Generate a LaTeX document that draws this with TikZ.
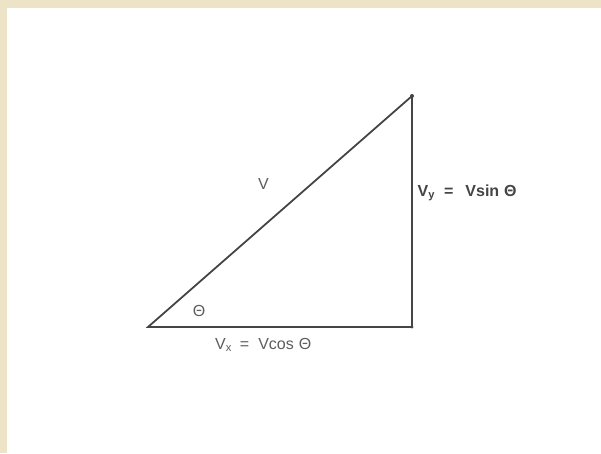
\documentclass[tikz,border=0pt]{standalone}
\usepackage{fontspec}
\setmainfont{Liberation Sans}
\definecolor{beige}{HTML}{EDE3C6}
\definecolor{linegray}{HTML}{454545}
\definecolor{textgray}{HTML}{5E5E5E}
\begin{document}
\begin{tikzpicture}[x=1pt,y=-1pt,
  side/.style={draw=linegray,line width=1.8pt},
  lbl/.style={inner sep=0pt,text=textgray,font=\fontsize{16}{19}\selectfont},
  blbl/.style={inner sep=0pt,text=linegray,font=\bfseries\fontsize{16}{19}\selectfont}]
\useasboundingbox (0,0) rectangle (601,453);
\fill[beige] (0,0) rectangle (601,453);
\fill[white] (7,8) rectangle (601,453);
\coordinate (A) at (148,327);
\coordinate (B) at (412,327);
\coordinate (C) at (412,96);
\draw[side,line join=miter] (A) -- (B) -- (C) -- cycle;
\fill[linegray] (C) circle (2pt);
\fill[linegray] (B) circle (1.5pt);
\node[lbl] (v) at (263.5,184) {V};
\node[lbl] (th) at (199,311) {Θ};
\node[lbl,anchor=base west] (vx) at (215,349) {V\textsubscript{x}\hspace{8pt}=\hspace{9pt}Vcos\hspace{5pt}Θ};
\node[blbl,anchor=base west] (vy) at (417.5,196) {V\textsubscript{y}\hspace{9pt}=\hspace{12pt}Vsin\hspace{5pt}Θ};
\end{tikzpicture}
\end{document}
